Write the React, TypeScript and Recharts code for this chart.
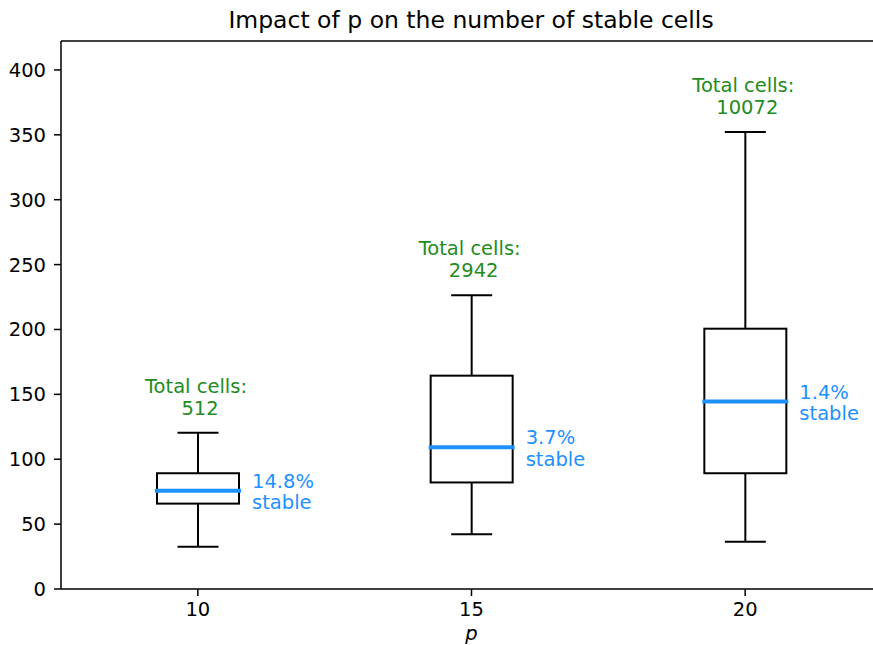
import { Bar, ComposedChart, ReferenceLine, XAxis, YAxis } from "recharts";

// values
const pValues = ["10", "15", "20"];
const whiskerLow = [32.6, 42.2, 36.5];
const quartile1 = [65.8, 82.1, 89.2];
const medians = [75.8, 109.3, 144.4];
const quartile3 = [89.2, 164.4, 200.6];
const whiskerHigh = [120.5, 226.4, 352.2];
const totalCells = [512, 2942, 10072];
const stableShare = ["14.8%", "3.7%", "1.4%"];
const yTicks = [0, 50, 100, 150, 200, 250, 300, 350, 400];
const yMax = 422.3;

const GREEN = "#228B22";
const BLUE = "#1E90FF";
const FONT = "DejaVu Sans, sans-serif";
const FS = 19.5;

const rows = pValues.map((p, i) => ({
  p,
  low: whiskerLow[i],
  q1: quartile1[i],
  median: medians[i],
  q3: quartile3[i],
  high: whiskerHigh[i],
  total: totalCells[i],
  stable: stableShare[i],
}));

type Row = (typeof rows)[number];

function BoxShape(props: any) {
  const { x, y, width, height, payload } = props;
  const d = payload as Row;
  // bar spans [low, high]; derive the pixel scale from it
  const k = height / (d.high - d.low);
  const yOf = (v: number) => y + (d.high - v) * k;
  const cx = x + width / 2;
  const capHalf = width / 4;
  const top = yOf(d.high);
  const bottom = yOf(d.low);
  const med = yOf(d.median);

  return (
    <g>
      <line x1={cx} x2={cx} y1={top} y2={yOf(d.q3)} stroke="#000" strokeWidth={2} />
      <line x1={cx} x2={cx} y1={yOf(d.q1)} y2={bottom} stroke="#000" strokeWidth={2} />
      <line x1={cx - capHalf} x2={cx + capHalf} y1={top} y2={top} stroke="#000" strokeWidth={2} />
      <line x1={cx - capHalf} x2={cx + capHalf} y1={bottom} y2={bottom} stroke="#000" strokeWidth={2} />
      <rect
        x={x}
        y={yOf(d.q3)}
        width={width}
        height={yOf(d.q1) - yOf(d.q3)}
        fill="none"
        stroke="#000"
        strokeWidth={2}
      />
      <line
        x1={x}
        x2={x + width}
        y1={med}
        y2={med}
        stroke={BLUE}
        strokeWidth={4}
        strokeLinecap="square"
      />
      <text x={cx - 2} y={top - 40} textAnchor="middle" fontSize={FS} fontFamily={FONT} fill={GREEN}>
        Total cells:
      </text>
      <text x={cx + 2} y={top - 18} textAnchor="middle" fontSize={FS} fontFamily={FONT} fill={GREEN}>
        {d.total}
      </text>
      <text x={x + width + 13} y={med - 3} textAnchor="start" fontSize={FS} fontFamily={FONT} fill={BLUE}>
        {d.stable}
      </text>
      <text x={x + width + 13} y={med + 18.5} textAnchor="start" fontSize={FS} fontFamily={FONT} fill={BLUE}>
        stable
      </text>
    </g>
  );
}

export default function App() {
  const tickStyle = { fontSize: FS, fill: "#000", fontFamily: FONT };

  return (
    <div
      style={{
        position: "absolute",
        left: 0,
        top: 0,
        width: 873,
        height: 645,
        overflow: "hidden",
        background: "#fff",
        fontFamily: FONT,
      }}
    >
      <div
        style={{
          position: "absolute",
          left: 0,
          width: 942,
          top: 5,
          textAlign: "center",
          fontSize: 23.5,
          color: "#000",
          lineHeight: "30px",
        }}
      >
        Impact of p on the number of stable cells
      </div>
      <ComposedChart
        width={882}
        height={645}
        data={rows}
        margin={{ top: 41, right: 0, bottom: 0, left: 0 }}
        barSize={82}
      >
        <XAxis
          dataKey="p"
          type="category"
          height={56}
          tick={tickStyle}
          tickSize={7}
          tickMargin={6}
          axisLine={{ stroke: "#000", strokeWidth: 1.5 }}
          tickLine={{ stroke: "#000", strokeWidth: 1.5 }}
          padding={{ left: 0, right: 0 }}
          label={{
            value: "p",
            position: "insideBottom",
            offset: 5,
            fontSize: FS,
            fontStyle: "italic",
            fill: "#000",
            fontFamily: FONT,
          }}
        />
        <YAxis
          type="number"
          domain={[0, yMax]}
          ticks={yTicks}
          width={61}
          tick={tickStyle}
          tickSize={7}
          tickMargin={8}
          axisLine={{ stroke: "#000", strokeWidth: 1.5 }}
          tickLine={{ stroke: "#000", strokeWidth: 1.5 }}
          allowDataOverflow
        />
        <ReferenceLine y={yMax} stroke="#000" strokeWidth={1.5} />
        <Bar
          dataKey={(r: Row) => [r.low, r.high]}
          shape={<BoxShape />}
          isAnimationActive={false}
        />
      </ComposedChart>
    </div>
  );
}
